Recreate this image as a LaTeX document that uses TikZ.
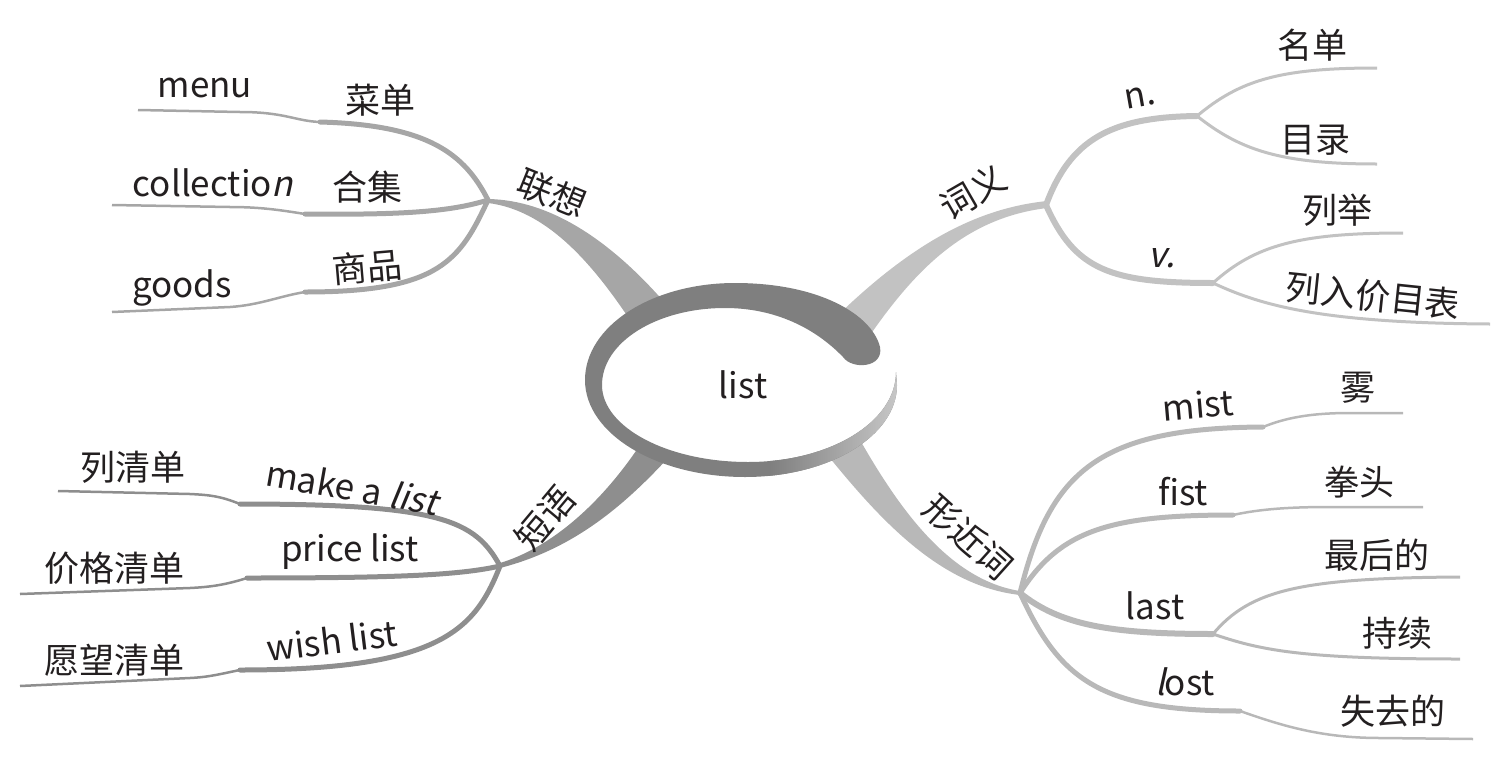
\documentclass[tikz,border=0pt]{standalone}
\usepackage{fontspec}
\setmainfont{Noto Sans CJK SC}
\newfontfamily\slfont{Noto Sans CJK SC}[FakeSlant=0.22]
\definecolor{ringc}{HTML}{7F7F7F}
\definecolor{ringl}{HTML}{C8C8C8}
\definecolor{cA}{HTML}{A6A6A6}
\definecolor{cB}{HTML}{C2C2C2}
\definecolor{cC}{HTML}{8E8E8E}
\definecolor{cD}{HTML}{B8B8B8}
\definecolor{txtc}{HTML}{231F20}
\begin{document}
\begin{tikzpicture}[x=1pt,y=-1pt,
  lbl/.style={inner sep=0pt,text=txtc,font=\fontsize{35}{42}\selectfont},
  brone/.style={line width=5pt,line cap=round},
  brtwo/.style={line width=2.5pt},
  brmid/.style={line width=6pt,line cap=round},
  brsub/.style={line width=3pt}]
\useasboundingbox (0,0) rectangle (1502,774);

% hubs and line ends
\coordinate (hA) at (488,200);
\coordinate (hB) at (1046,205);
\coordinate (hC) at (500,566);
\coordinate (hD) at (1020,593);
\coordinate (hN) at (1197,116);
\coordinate (hV) at (1213,283);
\coordinate (hL) at (1213,634);

\coordinate (kMenu) at (320,122);  \coordinate (eMenu) at (138,110);
\coordinate (kColl) at (305,214);  \coordinate (eColl) at (112,205);
\coordinate (kGood) at (305,292);  \coordinate (eGood) at (112,312);
\coordinate (kMake) at (240,504);  \coordinate (eMake) at (58,491);
\coordinate (kPric) at (247,578);  \coordinate (ePric) at (20,594);
\coordinate (kWish) at (240,670);  \coordinate (eWish) at (20,686);
\coordinate (eMd) at (1377,68);
\coordinate (eMl) at (1377,164);
\coordinate (eLj) at (1403,233);
\coordinate (eLr) at (1490,324);
\coordinate (kMist) at (1263,427); \coordinate (eMist) at (1403,413);
\coordinate (kFist) at (1233,515); \coordinate (eFist) at (1423,507);
\coordinate (eZh) at (1460,577);
\coordinate (eCx) at (1460,659);
\coordinate (kLost) at (1240,711); \coordinate (eLost) at (1473,739);

% main tapered branches
\fill[cA] (488,199) .. controls (550,200) and (610,240) .. (665,303)
  -- (630,320) .. controls (590,260) and (545,210) .. (488,203) -- cycle;
\fill[cB] (1047,201) .. controls (980,208) and (915,240) .. (835,318)
  -- (868,338) .. controls (915,270) and (965,218) .. (1047,208) -- cycle;
\fill[cC] (500,563) .. controls (550,548) and (600,505) .. (640,445)
  -- (668,458) .. controls (620,510) and (570,550) .. (500,568) -- cycle;
\fill[cD] (860,440) .. controls (900,510) and (950,580) .. (1020,591)
  -- (1020,595) .. controls (940,586) and (880,520) .. (825,452) -- cycle;

% 联想 sub-branches
\draw[cA,brone] (hA) .. controls (465,155) and (430,125) .. (kMenu);
\draw[cA,brtwo] (kMenu) .. controls (295,121) and (285,112) .. (240,112) -- (eMenu);
\draw[cA,brone] (hA) .. controls (450,212) and (400,215) .. (kColl);
\draw[cA,brtwo] (kColl) .. controls (280,210) and (260,207) .. (230,207) -- (eColl);
\draw[cA,brone] (hA) .. controls (460,260) and (440,292) .. (kGood);
\draw[cA,brtwo] (kGood) .. controls (280,296) and (260,305) .. (230,307) -- (eGood);

% 短语 sub-branches
\draw[cC,brone] (hC) .. controls (475,520) and (440,504) .. (kMake);
\draw[cC,brtwo] (kMake) .. controls (220,496) and (210,495) .. (190,494) -- (eMake);
\draw[cC,brone] (hC) .. controls (460,575) and (400,578) .. (kPric);
\draw[cC,brtwo] (kPric) .. controls (225,585) and (210,587) .. (190,588) -- (ePric);
\draw[cC,brone] (hC) .. controls (475,630) and (440,670) .. (kWish);
\draw[cC,brtwo] (kWish) .. controls (220,674) and (210,677) .. (190,678) -- (eWish);

% 词义 sub-branches
\draw[cB,brmid] (hB) .. controls (1070,140) and (1110,117) .. (hN);
\draw[cB,brmid] (hB) .. controls (1075,270) and (1110,283) .. (hV);
\draw[cB,brsub] (hN) .. controls (1240,80) and (1280,68) .. (eMd);
\draw[cB,brsub] (hN) .. controls (1240,150) and (1280,164) .. (eMl);
\draw[cB,brsub] (hV) .. controls (1255,245) and (1300,233) .. (eLj);
\draw[cB,brsub] (hV) .. controls (1260,305) and (1320,323) .. (eLr);

% 形近词 sub-branches
\draw[cD,brone] (hD) .. controls (1050,470) and (1100,428) .. (kMist);
\draw[cD,brtwo] (kMist) .. controls (1285,418) and (1310,413) .. (1350,413) -- (eMist);
\draw[cD,brone] (hD) .. controls (1060,530) and (1110,515) .. (kFist);
\draw[cD,brtwo] (kFist) .. controls (1260,509) and (1290,507) .. (1330,507) -- (eFist);
\draw[cD,brmid] (hD) .. controls (1060,625) and (1110,634) .. (hL);
\draw[cD,brsub] (hL) .. controls (1250,590) and (1300,578) .. (eZh);
\draw[cD,brsub] (hL) .. controls (1260,650) and (1300,659) .. (eCx);
\draw[cD,brone] (hD) .. controls (1060,680) and (1100,711) .. (kLost);
\draw[cD,brtwo] (kLost) .. controls (1280,725) and (1320,738) .. (1380,738) -- (eLost);

% centre ring
\fill[white] (748,385) ellipse [x radius=146pt, y radius=76pt];
\def\ringpath{(880,347) .. controls (872,315) and (820,283) .. (735,283)
 .. controls (652,283) and (585,326) .. (585,380)
 .. controls (585,434) and (657,477) .. (745,477)
 .. controls (829,477) and (897,436) .. (897,385)
 -- (896,372)
 .. controls (896,422) and (830,462) .. (748,462)
 .. controls (667,462) and (602,427) .. (602,385)
 .. controls (602,342) and (657,308) .. (725,308)
 .. controls (775,308) and (815,328) .. (843,357)
 .. controls (852,370) and (884,368) .. (880,347) -- cycle}
\fill[ringc] \ringpath;
\begin{scope}
  \clip \ringpath;
  \shade[left color=ringc, right color=ringl] (770,367) rectangle (900,480);
\end{scope}

% labels
\node[lbl] (list) at (743,385) {list};
\node[lbl,rotate=-22] (lx) at (552,193) {联想};
\node[lbl] (cd) at (380,100) {菜单};
\node[lbl] (menu) at (205,88) {menu};
\node[lbl] (hj) at (367,187) {合集};
\node[lbl] (coll) at (213,183) {collectio{\slfont n}};
\node[lbl,rotate=5] (sp) at (367,267) {商品};
\node[lbl] (goods) at (182,288) {goods};

\node[lbl,rotate=30] (cy) at (973,192) {词义};
\node[lbl,rotate=10] (n) at (1140,97) {n.};
\node[lbl] (md) at (1312,45) {名单};
\node[lbl] (ml) at (1315,140) {目录};
\node[lbl] (v) at (1162,258) {{\slfont v.}};
\node[lbl] (lj) at (1337,210) {列举};
\node[lbl,rotate=-6] (lr) at (1373,296) {列入价目表};

\node[lbl,rotate=50] (dy) at (545,518) {短语};
\node[lbl] (lqd) at (133,467) {列清单};
\node[lbl,rotate=-10] (make) at (352,487) {make a {\slfont list}};
\node[lbl] (jg) at (114,568) {价格清单};
\node[lbl] (price) at (350,552) {price list};
\node[lbl] (yw) at (114,660) {愿望清单};
\node[lbl,rotate=7] (wish) at (332,640) {wish list};

\node[lbl,rotate=-42] (xj) at (968,537) {形近词};
\node[lbl,rotate=5] (mist) at (1198,405) {mist};
\node[lbl] (wu) at (1358,388) {雾};
\node[lbl] (fist) at (1183,492) {fist};
\node[lbl] (qt) at (1359,482) {拳头};
\node[lbl] (last) at (1155,606) {last};
\node[lbl] (zh) at (1377,555) {最后的};
\node[lbl] (cx) at (1397,633) {持续};
\node[lbl] (lost) at (1185,682) {{\slfont l}ost};
\node[lbl] (sq) at (1393,711) {失去的};
\end{tikzpicture}
\end{document}
